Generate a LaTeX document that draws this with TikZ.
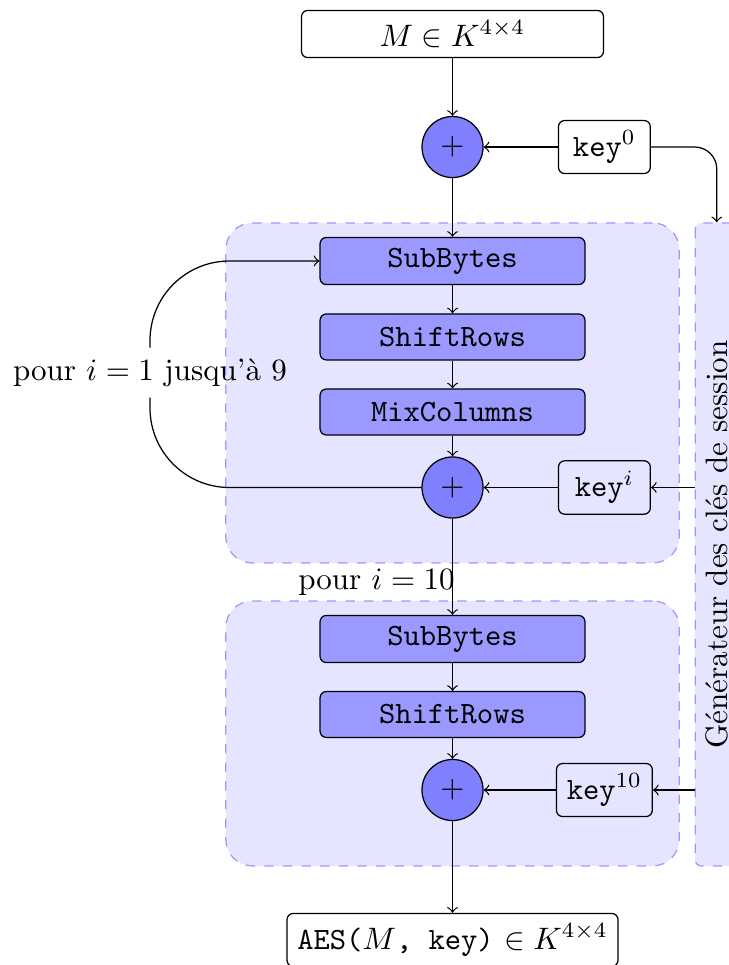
\documentclass[tikz,border=0pt]{standalone}
\usepackage{fontspec}
\begin{document}
\begin{tikzpicture}
		\tikzstyle{zone}=[draw=blue!40,dashed,fill=blue!10,rounded corners=0.3cm,minimum width=5.135cm]
		\tikzstyle{etape}=[draw,fill=blue!40,rounded corners=2pt,minimum width=3cm,minimum height=0.52cm,font=\ttfamily]
		\tikzstyle{addition}=[draw,circle,fill=blue!50,minimum size=0.68cm]
		\tikzstyle{cle}=[draw,rounded corners=2pt,minimum width=1.04cm]
		\tikzstyle{bloc}=[draw,rounded corners=2pt,minimum width=3.42cm,minimum height=0.52cm]
		\useasboundingbox (-5.125,0) rectangle (3.12,-10.929);
		\node[zone,minimum height=3.851cm] (tours) at (0,-4.45) {}; % tours 1 a 9
		\node[zone,minimum height=3.001cm] (final) at (0,-8.306) {}; % dernier tour
		\node[draw=blue!40,dashed,fill=blue!10,rounded corners=2pt,rotate=90,minimum width=7.282cm] (gen) at (2.993,-6.166) {Générateur des clés de session};
		\node[bloc] (m) at (0,-0.385) {$M \in K^{4\times 4}$};
		\node[addition] (a0) at (0,-1.665) {$+$};
		\node[cle] (k0) at (1.72,-1.665) {\texttt{key}$^{0}$};
		\node[etape] (sb1) at (0,-2.956) {SubBytes};
		\node[etape] (sr1) at (0,-3.816) {ShiftRows};
		\node[etape] (mc1) at (0,-4.666) {MixColumns};
		\node[addition] (ai) at (0,-5.521) {$+$};
		\node[cle] (ki) at (1.72,-5.521) {\texttt{key}$^{i}$};
		\node (boucle) at (-3.426,-4.219) {pour $i=1$ jusqu'à 9};
		\node[anchor=east] (dix) at (0.15,-6.591) {pour $i=10$};
		\node[etape] (sb2) at (0,-7.237) {SubBytes};
		\node[etape] (sr2) at (0,-8.092) {ShiftRows};
		\node[addition] (a10) at (0,-8.947) {$+$};
		\node[cle] (k10) at (1.72,-8.947) {\texttt{key}$^{10}$};
		\node[bloc] (sortie) at (0,-10.645) {\texttt{AES(}$M$\texttt{, key)} $\in K^{4\times 4}$};
		\draw[->] (m) -- (a0);
		\draw[->] (k0) -- (a0);
		\draw[->,rounded corners=0.25cm] (k0.east) -| (gen.east);
		\draw[->] (a0) -- (sb1);
		\draw[->] (sb1) -- (sr1);
		\draw[->] (sr1) -- (mc1);
		\draw[->] (mc1) -- (ai);
		\draw[->] (gen.north |- ki) -- (ki);
		\draw[->] (ki) -- (ai);
		\draw[rounded corners=0.9cm] (ai.west) -| (boucle.south); % retour
		\draw[->,rounded corners=0.9cm] (boucle.north) |- (sb1.west);
		\draw[->] (ai) -- (sb2);
		\draw[->] (sb2) -- (sr2);
		\draw[->] (sr2) -- (a10);
		\draw[->] (gen.north |- k10) -- (k10);
		\draw[->] (k10) -- (a10);
		\draw[->] (a10) -- (sortie);
	\end{tikzpicture}
\end{document}
